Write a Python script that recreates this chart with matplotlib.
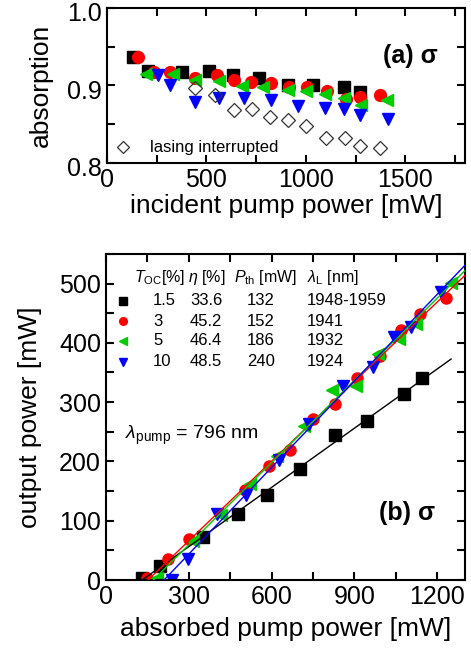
import numpy as np
import matplotlib
matplotlib.use('Agg')
import matplotlib.pyplot as plt
from matplotlib.ticker import MultipleLocator
from matplotlib.transforms import ScaledTranslation

plt.rcParams['font.family'] = ['Liberation Sans', 'DejaVu Sans']
plt.rcParams['mathtext.fontset'] = 'custom'
plt.rcParams['mathtext.rm'] = 'Liberation Sans'
plt.rcParams['mathtext.it'] = 'Liberation Sans:italic'
plt.rcParams['mathtext.bf'] = 'Liberation Sans:bold'

# (a) absorption vs incident pump power
abs_x_15 = [131, 206, 376, 515, 635, 765, 910, 1037, 1192, 1273]
abs_y_15 = [0.937, 0.918, 0.917, 0.918, 0.913, 0.910, 0.901, 0.901, 0.898, 0.891]
abs_x_3 = [157, 237, 315, 445, 553, 640, 727, 823, 915, 1007, 1107, 1203, 1273, 1373]
abs_y_3 = [0.936, 0.917, 0.917, 0.910, 0.913, 0.907, 0.904, 0.903, 0.898, 0.898,
           0.893, 0.882, 0.885, 0.888]
abs_x_5 = [198, 332, 445, 562, 677, 785, 912, 1002, 1098, 1190, 1278, 1407]
abs_y_5 = [0.914, 0.915, 0.907, 0.906, 0.899, 0.898, 0.894, 0.893, 0.889, 0.883,
           0.874, 0.881]
abs_x_10 = [257, 315, 445, 565, 690, 823, 962, 1095, 1193, 1273, 1415]
abs_y_10 = [0.913, 0.901, 0.879, 0.884, 0.884, 0.881, 0.873, 0.871, 0.869, 0.862, 0.856]
int_x = [445, 545, 640, 728, 820, 912, 1003, 1103, 1198, 1273, 1373]
int_y = [0.897, 0.887, 0.868, 0.869, 0.859, 0.855, 0.847, 0.832, 0.832, 0.821, 0.819]

# (b) output power vs absorbed pump power
out_x_15 = [130, 194, 351, 479, 584, 703, 830, 945, 1081, 1144]
out_y_15 = [3, 24, 72, 112, 144, 187, 244, 269, 314, 340]
out_x_3 = [150, 224, 299, 505, 590, 667, 750, 830, 908, 994, 1069, 1136, 1230]
out_y_3 = [3, 35, 70, 152, 192, 219, 271, 297, 340, 377, 421, 448, 475]
out_x_5 = [184, 317, 415, 521, 621, 717, 820, 905, 984, 1063, 1124, 1251]
out_y_5 = [3, 65, 109, 162, 209, 259, 320, 328, 381, 406, 431, 501]
out_x_10 = [239, 297, 402, 509, 627, 736, 857, 966, 1045, 1105, 1214]
out_y_10 = [0, 36, 112, 144, 203, 263, 328, 359, 410, 427, 486]

t_oc = ['1.5', '3', '5', '10']
eta = ['33.6', '45.2', '46.4', '48.5']
p_th = ['132', '152', '186', '240']
lam_l = ['1948-1959', '1941', '1932', '1924']
line_end = [1250, 1300, 1300, 1300]

colors = ['black', '#ff0000', '#00cc00', '#0000ff']
markers = ['s', 'o', '<', 'v']

fig = plt.figure(figsize=(4.71, 6.51), dpi=100)
ax1 = fig.add_axes([0.227, 0.750, 0.760, 0.238])
ax2 = fig.add_axes([0.225, 0.109, 0.762, 0.501])

for ax in (ax1, ax2):
    for s in ax.spines.values():
        s.set_linewidth(1.5)
    ax.tick_params(which='both', direction='in', top=True, right=True,
                   width=1.5, labelsize=18, length=6)

# panel (a)
abs_sets = [(abs_x_15, abs_y_15), (abs_x_3, abs_y_3),
            (abs_x_5, abs_y_5), (abs_x_10, abs_y_10)]
for (xs, ys), c, m in zip(abs_sets, colors, markers):
    ax1.plot(xs, ys, ls='none', marker=m, color=c, ms=8.5, mec=c)
ax1.plot(int_x, int_y, ls='none', marker='D', mfc='none', mec='#333333',
         ms=7, mew=0.9)
ax1.plot([0.045], [0.102], transform=ax1.transAxes, ls='none', marker='D',
         mfc='none', mec='#333333', ms=6, mew=0.9)
ax1.text(0.12, 0.10, 'lasing interrupted', transform=ax1.transAxes,
         fontsize=12, va='center')
ax1.text(0.925, 0.69, '(a) σ', transform=ax1.transAxes, fontsize=18,
         fontweight='bold', ha='right', va='center')
ax1.set_xlim(0, 1800)
ax1.set_ylim(0.8, 1.0)
ax1.xaxis.set_major_locator(MultipleLocator(500))
ax1.xaxis.set_minor_locator(MultipleLocator(250))
ax1.yaxis.set_major_locator(MultipleLocator(0.1))
ax1.yaxis.set_minor_locator(MultipleLocator(0.05))
ax1.set_xlabel('incident pump power [mW]', fontsize=19, labelpad=2)
ax1.set_ylabel('absorption', fontsize=19, labelpad=10)
# labels sit a bit under their ticks, as in the original
shift = ScaledTranslation(0, -4 / 100, fig.dpi_scale_trans)
for lbl in ax1.get_yticklabels():
    lbl.set_transform(lbl.get_transform() + shift)

# panel (b)
out_sets = [(out_x_15, out_y_15), (out_x_3, out_y_3),
            (out_x_5, out_y_5), (out_x_10, out_y_10)]
for (xs, ys), c, m, xe in zip(out_sets, colors, markers, line_end):
    k, b = np.polyfit(xs, ys, 1)
    x0 = -b / k
    ax2.plot([x0, xe], [0, k * xe + b], color=c, lw=1.0, zorder=3)
    ax2.plot(xs, ys, ls='none', marker=m, color=c, ms=8, mec=c, zorder=2)

ax2.set_xlim(0, 1300)
ax2.set_ylim(0, 550)
ax2.xaxis.set_major_locator(MultipleLocator(300))
ax2.xaxis.set_minor_locator(MultipleLocator(150))
ax2.yaxis.set_major_locator(MultipleLocator(100))
ax2.yaxis.set_minor_locator(MultipleLocator(50))
ax2.set_xlabel('absorbed pump power [mW]', fontsize=19, labelpad=6)
ax2.set_ylabel('output power [mW]', fontsize=19, labelpad=12)

# table-style legend
hdr_y = 0.929
row_y = [0.856, 0.794, 0.733, 0.669]
ax2.text(0.078, hdr_y, r'$T_{\rm OC}$[%]', transform=ax2.transAxes, fontsize=11.5, va='center')
ax2.text(0.228, hdr_y, r'$\eta$ [%]', transform=ax2.transAxes, fontsize=11.5, va='center')
ax2.text(0.357, hdr_y, r'$P_{\rm th}$ [mW]', transform=ax2.transAxes, fontsize=11.5, va='center')
ax2.text(0.560, hdr_y, r'$\lambda_{\rm L}$ [nm]', transform=ax2.transAxes, fontsize=11.5, va='center')
for i in range(4):
    ax2.plot([0.047], [row_y[i]], transform=ax2.transAxes, ls='none',
             marker=markers[i], color=colors[i], ms=5.5, clip_on=False)
    ax2.text(0.131, row_y[i], t_oc[i], transform=ax2.transAxes, fontsize=12, va='center')
    ax2.text(0.234, row_y[i], eta[i], transform=ax2.transAxes, fontsize=12, va='center')
    ax2.text(0.393, row_y[i], p_th[i], transform=ax2.transAxes, fontsize=12, va='center')
    ax2.text(0.560, row_y[i], lam_l[i], transform=ax2.transAxes, fontsize=12, va='center')

ax2.text(0.053, 0.445, r'$\lambda_{\rm pump}$ = 796 nm', transform=ax2.transAxes,
         fontsize=14, va='center')
ax2.text(0.916, 0.206, '(b) σ', transform=ax2.transAxes, fontsize=18,
         fontweight='bold', ha='right', va='center')

fig.savefig('out.png', dpi=100)
